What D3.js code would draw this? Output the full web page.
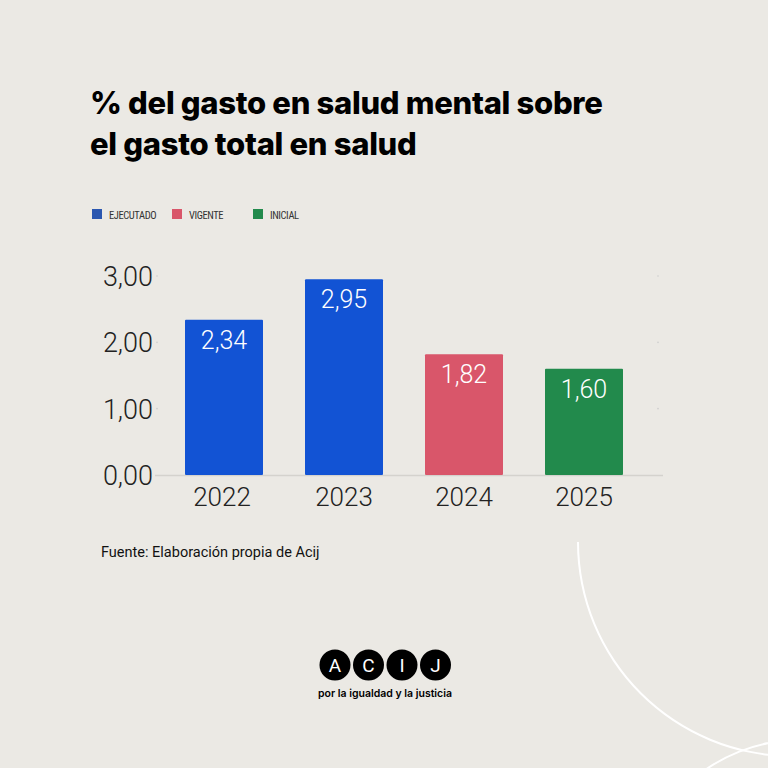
<!DOCTYPE html><html><head><script src="https://cdn.jsdelivr.net/npm/d3@7"></script>
<style>body{margin:0;background:#ebe9e4}</style></head><body><svg id="c" width="768" height="768"></svg>
<script>
const categories=["2022","2023","2024","2025"];
const values=[2.34,2.95,1.82,1.60];
const types=["EJECUTADO","EJECUTADO","VIGENTE","INICIAL"];
const legendLabels=["EJECUTADO","VIGENTE","INICIAL"];
const legendColors=["#2b57b0","#d9566a","#228a4c"];
const barColors={"EJECUTADO":"#1253d4","VIGENTE":"#d9566a","INICIAL":"#228a4c"};
const yTicks=[0,1,2,3];
const svg=d3.select("#c");
svg.append("rect").attr("width",768).attr("height",768).attr("fill","#ebe9e4");
const arc=d3.arc();
svg.append("path").attr("transform","translate(792,542)").attr("d",arc({innerRadius:213,outerRadius:215,startAngle:Math.PI,endAngle:1.5*Math.PI})).attr("fill","#fff");
svg.append("circle").attr("cx",800).attr("cy",905).attr("r",165).attr("fill","none").attr("stroke","#fff").attr("stroke-width",2);
const tf="Inter, 'Noto Sans', sans-serif";
svg.append("text").attr("x",90).attr("y",114).text("% del gasto en salud mental sobre").attr("font-family",tf).attr("font-weight",800).attr("font-size",31).attr("fill","#000").attr("letter-spacing",-0.3);
svg.append("text").attr("x",90).attr("y",155).text("el gasto total en salud").attr("font-family",tf).attr("font-weight",800).attr("font-size",31).attr("fill","#000").attr("letter-spacing",-0.3);
const lg=svg.append("g").attr("font-family","'Roboto Condensed', 'Liberation Sans Narrow', Roboto, sans-serif").attr("font-size",10.5).attr("letter-spacing",-0.4).attr("fill","#333");
let lx=[92,172,253];
legendLabels.forEach((l,i)=>{lg.append("rect").attr("x",lx[i]).attr("y",209).attr("width",10).attr("height",10).attr("fill",legendColors[i]);
lg.append("text").attr("x",lx[i]+17).attr("y",219).text(l);});
const x=d3.scaleBand().domain(categories).range([164,644]).paddingInner(0.35).paddingOuter(0.175);
const y=d3.scaleLinear().domain([0,3]).range([475,276]);
const fmt=d=>d3.format(".2f")(d).replace(".",",");
const lf="Roboto, sans-serif";
yTicks.forEach(t=>{
 if(t>0){svg.append("circle").attr("cx",157).attr("cy",y(t)).attr("r",0.8).attr("fill","#ccc");svg.append("circle").attr("cx",658).attr("cy",y(t)).attr("r",0.8).attr("fill","#ccc");}
 svg.append("text").attr("x",153).attr("y",y(t)+10).attr("text-anchor","end").text(fmt(t)).attr("font-family",lf).attr("font-weight",300).attr("font-size",27).attr("fill","#222");
});
svg.append("line").attr("x1",155).attr("x2",663).attr("y1",y(0)+0.5).attr("y2",y(0)+0.5).attr("stroke","#d4d2cd").attr("stroke-width",1.5);
categories.forEach((c,i)=>{
 svg.append("rect").attr("x",x(c)).attr("y",y(values[i])).attr("width",x.bandwidth()).attr("height",y(0)-y(values[i])).attr("fill",barColors[types[i]]).attr("rx",1);
 svg.append("text").attr("x",x(c)+x.bandwidth()/2).attr("y",y(values[i])+29).attr("text-anchor","middle").text(fmt(values[i])).attr("font-family",lf).attr("font-weight",300).attr("font-size",25).attr("fill","#fff");
 svg.append("text").attr("x",x(c)+x.bandwidth()/2-(i==0?2:0)).attr("y",506).attr("text-anchor","middle").text(c).attr("font-family",lf).attr("font-weight",300).attr("font-size",26).attr("fill","#222");
});
svg.append("text").attr("x",101).attr("y",557).text("Fuente:  Elaboración propia de Acij").attr("font-family",lf).attr("font-size",14.5).attr("fill","#111");
const letters=["A","C","I","J"];
letters.forEach((l,i)=>{const cx=335+i*33.5;
 svg.append("circle").attr("cx",cx).attr("cy",665).attr("r",15.5).attr("fill","#000");
 svg.append("text").attr("x",cx).attr("y",672).attr("text-anchor","middle").text(l).attr("font-family",lf).attr("font-size",19).attr("fill","#fff");});
svg.append("text").attr("x",385).attr("y",697).attr("text-anchor","middle").text("por la igualdad y la justicia").attr("font-family",tf).attr("font-weight",600).attr("font-size",10.5).attr("fill","#000");
</script></body></html>
